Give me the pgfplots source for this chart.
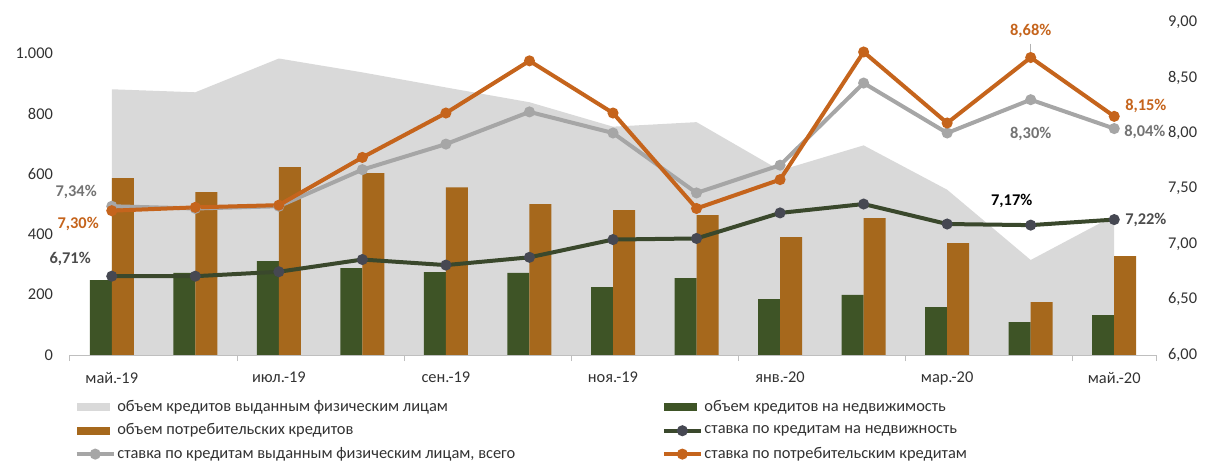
\documentclass[border=0pt]{standalone}
\usepackage{pgfplots}
\pgfplotsset{compat=1.18}
\usepackage{fontspec}
\setmainfont{Carlito}
\definecolor{areagray}{RGB}{217,217,217}
\definecolor{bargreen}{RGB}{62,84,38}
\definecolor{barorange}{RGB}{166,104,28}
\definecolor{lineorange}{RGB}{197,100,28}
\definecolor{linegray}{RGB}{166,166,166}
\definecolor{linegreen}{RGB}{58,72,44}
\definecolor{markgreen}{RGB}{70,72,82}
\definecolor{ticktext}{RGB}{50,50,50}
\pgfplotsset{
  rectleg/.style={legend image code/.code={\fill[#1] (0pt,-2pt) rectangle (16.5pt,2pt);}},
  lineleg/.style={legend image code/.code={\draw[##1] (0pt,0pt) -- (18.5pt,0pt); \draw[##1] plot coordinates {(9.25pt,0pt)};}},
}
\begin{document}
\begin{tikzpicture}[font=\fontsize{8.2}{9.8}\selectfont]
\begin{axis}[
  name=ax1,
  scale only axis, width=543pt, height=166.5pt,
  xmin=-0.5, xmax=12.5, ymin=0, ymax=1104,
  axis line style={draw=none},
  ytick={0,200,...,1000},
  ytick pos=left, major tick length=0pt,
  yticklabel style={color=ticktext, xshift=-5pt, /pgf/number format/.cd,1000 sep={.},assume math mode=true},
  xtick={0,2,...,12},
  xticklabels={май.-19,июл.-19,сен.-19,ноя.-19,янв.-20,мар.-20,май.-20},
  xticklabel style={color=ticktext, yshift=-5pt},
  xtick pos=bottom,
  extra x ticks={-0.5,1.5,3.5,5.5,7.5,9.5,11.5,12.5},
  extra x tick labels={},
  extra x tick style={major tick length=3pt, tick align=outside, tick style={draw=gray!50, line width=0.5pt}},
  legend columns=2,
  legend cell align=left,
  legend style={at={(0.004,-0.13)}, anchor=north west, draw=none, fill=none, inner sep=0pt,
    row sep=3pt, nodes={inner sep=0.8pt, text=ticktext},
    /tikz/every even column/.append style={column sep=72.5pt}},
]
\addplot[fill=areagray, draw=none, rectleg=areagray]
  coordinates {(0,881) (1,871) (2,983) (3,937) (4,887) (5,838) (6,757) (7,772) (8,612) (9,695) (10,548) (11,315) (12,462)} \closedcycle;
\addlegendentry{объем кредитов выданным физическим лицам}
\addplot[ybar, bar width=11pt, bar shift=-5.5pt, fill=bargreen, draw=none, rectleg=bargreen]
  coordinates {(0,248) (1,272) (2,311) (3,288) (4,275) (5,272) (6,225) (7,255) (8,185) (9,199) (10,159) (11,109) (12,132)};
\addlegendentry{объем кредитов на недвижимость}
\addplot[ybar, bar width=11pt, bar shift=5.5pt, fill=barorange, draw=none, rectleg=barorange]
  coordinates {(0,586) (1,540) (2,623) (3,603) (4,556) (5,500) (6,480) (7,464) (8,391) (9,454) (10,371) (11,175) (12,328)};
\addlegendentry{объем потребительских кредитов}
\addlegendimage{lineleg, color=linegreen, line width=2pt, mark=*, mark size=1.7pt, mark options={fill=markgreen, draw=markgreen}}
\addlegendentry{ставка по кредитам на недвижность}
\addlegendimage{lineleg, color=linegray, line width=2pt, mark=*, mark size=1.7pt}
\addlegendentry{ставка по кредитам выданным физическим лицам, всего}
\addlegendimage{lineleg, color=lineorange, line width=2pt, mark=*, mark size=1.7pt}
\addlegendentry{ставка по потребительским кредитам}
\draw[gray!50, line width=0.5pt] (rel axis cs:0,0) -- (rel axis cs:1,0);
\coordinate (SW) at (rel axis cs:0,0);
\end{axis}
\begin{axis}[
  scale only axis, width=543pt, height=166.5pt,
  xmin=-0.5, xmax=12.5, ymin=6, ymax=9,
  axis line style={draw=none},
  xtick=\empty,
  ytick={6,6.5,7,7.5,8,8.5,9},
  ytick pos=right, yticklabel pos=right, major tick length=0pt,
  yticklabel style={color=ticktext, xshift=2.5pt, /pgf/number format/.cd, fixed, fixed zerofill, precision=2, use comma, assume math mode=true},
  clip=false,
]
\addplot[color=linegray, line width=2pt, mark=*, mark size=1.7pt]
  coordinates {(0,7.34) (1,7.32) (2,7.34) (3,7.67) (4,7.90) (5,8.19) (6,8.00) (7,7.46) (8,7.71) (9,8.45) (10,8.00) (11,8.30) (12,8.04)};
\addplot[color=lineorange, line width=2pt, mark=*, mark size=1.7pt]
  coordinates {(0,7.30) (1,7.33) (2,7.35) (3,7.78) (4,8.18) (5,8.65) (6,8.18) (7,7.32) (8,7.58) (9,8.73) (10,8.09) (11,8.68) (12,8.15)};
\addplot[color=linegreen, line width=2pt, mark=*, mark size=1.7pt, mark options={fill=markgreen, draw=markgreen}]
  coordinates {(0,6.71) (1,6.71) (2,6.75) (3,6.86) (4,6.81) (5,6.88) (6,7.04) (7,7.05) (8,7.28) (9,7.36) (10,7.18) (11,7.17) (12,7.22)};
\node[anchor=east, text=gray!90!black, font=\fontsize{8.2}{9.8}\selectfont\bfseries] at ([xshift=-4pt,yshift=7pt]axis cs:0,7.34) {7,34\%};
\node[anchor=east, text=lineorange, font=\fontsize{8.2}{9.8}\selectfont\bfseries] at ([xshift=-3pt,yshift=-6.5pt]axis cs:0,7.30) {7,30\%};
\node[anchor=east, text=black!70, font=\fontsize{8.2}{9.8}\selectfont\bfseries] at ([xshift=-7pt,yshift=8.5pt]axis cs:0,6.71) {6,71\%};
\node[anchor=south, text=lineorange, font=\fontsize{8.2}{9.8}\selectfont\bfseries] (l868) at ([yshift=6.5pt]axis cs:11,8.68) {8,68\%};
\draw[gray!60, line width=0.4pt] ([yshift=0.5pt]l868.south) -- ([yshift=3pt]axis cs:11,8.68);
\node[anchor=west, text=lineorange, font=\fontsize{8.2}{9.8}\selectfont\bfseries] at ([xshift=2pt,yshift=5pt]axis cs:12,8.15) {8,15\%};
\node[anchor=north, text=gray!90!black, font=\fontsize{8.2}{9.8}\selectfont\bfseries] at ([yshift=-10pt]axis cs:11,8.30) {8,30\%};
\node[anchor=west, text=gray!90!black, font=\fontsize{8.2}{9.8}\selectfont\bfseries] at ([xshift=1.5pt,yshift=-1.5pt]axis cs:12,8.04) {8,04\%};
\node[anchor=south, text=black, font=\fontsize{8.2}{9.8}\selectfont\bfseries] at ([xshift=-9.5pt,yshift=5pt]axis cs:11,7.17) {7,17\%};
\node[anchor=west, text=black!70, font=\fontsize{8.2}{9.8}\selectfont\bfseries] at ([xshift=2pt]axis cs:12,7.22) {7,22\%};
\end{axis}
\pgfresetboundingbox
\path ([xshift=-35pt,yshift=-53pt]SW) rectangle ++(604.5pt,230.5pt);
\end{tikzpicture}
\end{document}
